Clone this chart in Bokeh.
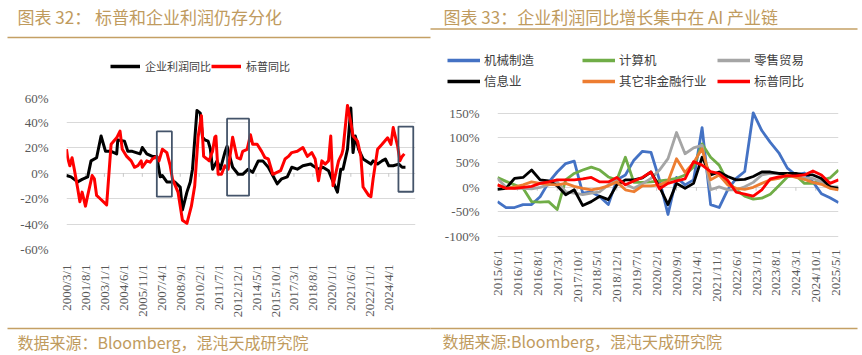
import math
from bokeh.plotting import figure
from bokeh.models import (Range1d, FixedTicker, PrintfTickFormatter, BoxAnnotation,
                          Legend, LegendItem)
from bokeh.core.properties import value
from bokeh.layouts import row, column
from bokeh.embed import file_html
from bokeh.resources import INLINE

# ---------------- data: left chart (monthly index since 2000/3) ----------------
left_tick_labels = ["2000/3/1", "2001/8/1", "2003/1/1", "2004/6/1", "2005/11/1", "2007/4/1",
                    "2008/9/1", "2010/2/1", "2011/7/1", "2012/12/1", "2014/5/1", "2015/10/1",
                    "2017/3/1", "2018/8/1", "2020/1/1", "2021/6/1", "2022/11/1", "2024/4/1"]

profit_month = [0, 4, 10, 14, 19, 22, 27, 31, 35, 40, 45, 46, 52, 55, 59, 66, 68, 72, 77, 81, 84, 86,
                90, 94, 97, 102, 104, 108, 111, 113, 117, 120, 122, 124, 127, 129, 131, 135, 138, 142,
                144, 147, 149, 154, 158, 163, 167, 172, 176, 181, 185, 189, 193, 198, 202, 207, 212,
                219, 221, 226, 230, 235, 238, 243, 246, 248, 252, 255, 257, 259, 262, 266, 273, 275,
                279, 283, 286, 289, 293, 298, 301, 304]
profit_yoy = [-2, -3, -7, -5, -3, 9.5, 12, 29, 17, 17, 15, 26, 25, 17, 17, 15, 20, 15, 13, 13, -3, -2,
              -7, -7, -7, -11, -29, -15, -7, 3, 49, 47, 28, 26, 25, 19, 3, 9.5, 3, 16,
              21, 11, 4.5, -1, -1, 3, 0.5, 9.5, 9.5, 4.5, -2, -8.5, -4.6, -3, 4.5, 3, 5.7,
              7, 5.7, 3, 4.5, 1.8, -4.6, -15, 3, 3, 18.6, 51, 16, 29, 18.6, 11, 7, 9.5,
              7, 9.5, 11, 5.7, 5.7, 7, 4.5, 4.5]

spx_month = [0, 1, 3, 5, 7, 10, 12, 14, 17, 19, 23, 25, 27, 30, 36, 40, 45, 48, 50, 54, 58, 61, 64,
             67, 68, 72, 75, 77, 81, 83, 86, 90, 93, 95, 100, 104, 108, 112, 115, 118, 121, 123, 126,
             128, 130, 131, 133, 134, 136, 139, 142, 145, 149, 153, 156, 158, 162, 165, 167, 171,
             175, 178, 181, 185, 192, 196, 199, 202, 207, 212, 216, 220, 223, 226, 229, 232, 235,
             237, 239, 244, 247, 248, 252, 255, 257, 261, 264, 266, 271, 273, 275, 279, 283, 288,
             291, 293, 297, 299, 301, 303]
spx_yoy = [18.6, 12, 5.7, 12, 3, -12, -22.5, -15, -26, -17.6, -2, -4.6, -17.6, -20, -25, 22.5, 27.6,
           32.8, 18.6, 13, 9.5, 4.5, 5.7, 9.5, 4.5, 9.5, 8.5, 11, 13, 9.5, 18.6, 16, 5.7, -4.6, -15,
           -37, -39.5, -26, -10, 28, 45, 13, 11, 9.5, 15, 17, 28, 29, -1, -1, 5.7, 3, 28, 12, 11, 17,
           18.6, 30, 22.5, 22.5, 17, 12, 11, -1, 1.8, 11, 13, 16, 17, 20, 13, 16, 11, -6, 9.5, 7, 9.5,
           29, -10, 9.5, 15, 18.6, 53, 39.5, 29, 25, 13, -11, -17.6, -18.6, -4.6, 18.6, 22.5, 27.6,
           22.5, 35.6, 21, 9.5, 13, 15]

# highlighted periods (month index, percent)
box_left = [81, 144, 297.7]
box_right = [94.5, 163.7, 311]
box_top = [32.6, 42.6, 36.4]
box_bottom = [-18.6, -17.8, -14.7]

# ---------------- data: right chart (quarterly, month index since 2015/6) ----------------
right_tick_labels = ["2015/6/1", "2016/1/1", "2016/8/1", "2017/3/1", "2017/10/1", "2018/5/1",
                     "2018/12/1", "2019/7/1", "2020/2/1", "2020/9/1", "2021/4/1", "2021/11/1",
                     "2022/6/1", "2023/1/1", "2023/8/1", "2024/3/1", "2024/10/1", "2025/5/1"]
quarter_month = list(range(0, 121, 3))

machinery = [-29, -41, -41, -35, -35, -19, 10, 31, 48, 53, -12, -9, -19, -35, 15, 25, 55, 73, 71, 15,
             -55, 20, 5, 15, 121, -35, -41, -5, 18, 32, 151, 115, 91, 70, 39, 25, 29, 11, -13, -21, -31]
computer = [20, 12, 5, -2, -29, -30, -29, -45, 15, 28, 35, 41, 35, 21, 15, 61, 10, 10, 11, 13,
            15, 18, 25, 41, 88, 61, 45, 11, -5, -18, -24, -22, -14, 3, 21, 24, 8, 8, 14, 19, 35]
retail = [18, 0, -2, -2, -3, 0, 5, 11, -9, -12, -15, -12, -9, 5, 15, 6, -2, 7, 18, 35,
          58, 111, 68, 80, 85, -5, 1, -5, -5, 1, 10, 25, 28, 28, 25, 25, 18, 18, 11, 1, 1]
info = [-4, -2, 18, 20, 35, 15, 13, 3, -15, -5, -37, -29, -18, -25, 5, 15, 15, 19, 31, 1,
        -35, 8, -2, 8, 61, 25, 31, 22, 15, 16, 22, 31, 31, 28, 28, 28, 25, 25, 18, 1, -2]
other_nonfin = [5, -2, 1, 5, 11, 8, 6, 5, 8, 2, -2, -5, -2, 3, 11, -5, -9, 3, 3, 5,
                12, 58, 30, 50, 78, 15, 25, 5, -2, -4, 0, 8, 15, 18, 25, 20, 16, 10, 6, -2, -5]
spx_right = [5, -2, -2, 0, 2, 8, 11, 15, 15, 15, 17, 20, 11, 11, 20, 5, 13, 20, 31, -3,
             8, 13, 17, 52, 45, 32, 28, 14, -10, -14, -18, -5, 17, 21, 23, 23, 25, 33, 25, 8, 15]

right_series = [("机械制造", machinery, "#4472c4"), ("计算机", computer, "#70ad47"),
                ("零售贸易", retail, "#a5a5a5"), ("信息业", info, "#000000"),
                ("其它非金融行业", other_nonfin, "#ed7d31"), ("标普同比", spx_right, "#ff0000")]
right_legend_cols = [["机械制造", "信息业"], ["计算机", "其它非金融行业"], ["零售贸易", "标普同比"]]
left_series = [("企业利润同比", "#000000"), ("标普同比", "#ff0000")]

titles = ["图表 32：  标普和企业利润仍存分化", "图表 33：企业利润同比增长集中在 AI 产业链"]
sources = ["数据来源：Bloomberg，混沌天成研究院", "数据来源:Bloomberg，混沌天成研究院"]


def month_index(label, y0, m0):
    y, m, _ = label.split("/")
    return (int(y) - y0) * 12 + (int(m) - m0)


left_ticks = [month_index(s, 2000, 3) for s in left_tick_labels]
right_ticks = [month_index(s, 2015, 6) for s in right_tick_labels]

GOLD = "#bf9b5e"
GOLD_LINE = "#c4a064"
TICK_COL = "#595959"
CJK = "Noto Sans CJK SC"
SERIF = "Liberation Serif"


def style(p, yticks, xticks, xlabels, xstandoff):
    p.outline_line_color = None
    p.background_fill_color = "white"
    p.border_fill_color = "white"
    p.xgrid.visible = False
    p.ygrid.grid_line_color = "#d9d9d9"
    p.ygrid.grid_line_width = 1
    p.yaxis.ticker = FixedTicker(ticks=yticks)
    p.yaxis.formatter = PrintfTickFormatter(format="%d%%")
    p.xaxis.ticker = FixedTicker(ticks=xticks)
    p.xaxis.major_label_overrides = {t: l for t, l in zip(xticks, xlabels)}
    p.xaxis.major_label_orientation = math.pi / 2
    for ax in (p.xaxis, p.yaxis):
        ax.axis_line_color = None
        ax.major_tick_line_color = None
        ax.minor_tick_line_color = None
        ax.major_label_text_font = SERIF
        ax.major_label_text_font_size = "13px"
        ax.major_label_text_color = TICK_COL
    p.yaxis.major_label_standoff = 12
    p.xaxis.major_label_standoff = xstandoff


def strip(height):
    s = figure(width=862, height=height, output_backend="svg", toolbar_location=None,
               x_range=Range1d(0, 862), y_range=Range1d(height, 0),
               x_axis_type=None, y_axis_type=None)
    s.min_border_left = s.min_border_right = s.min_border_top = s.min_border_bottom = 0
    s.outline_line_color = None
    s.grid.visible = False
    s.background_fill_color = "white"
    s.border_fill_color = "white"
    return s


def add_legend(s, renderers, names, loc, size, gw, gh, standoff):
    s.add_layout(Legend(items=[LegendItem(label=n, renderers=[r]) for n, r in zip(names, renderers)],
                        location=loc, orientation="vertical",
                        border_line_color=None, background_fill_alpha=0, padding=0, margin=0,
                        glyph_width=gw, glyph_height=gh, label_height=gh,
                        label_standoff=standoff, spacing=2,
                        label_text_font=CJK, label_text_font_size=size,
                        label_text_color="#404040"))


# ---------------- top strip (canvas y 0..90): titles, rules, legends ----------------
top = strip(90)
top.text(x=[17, 443], y=[16, 16], text=titles, text_font=value(CJK), text_font_size="17px",
         text_color=GOLD, text_baseline="middle", text_align="left")
top.segment(x0=[7, 430], y0=[37, 28.5], x1=[430, 857], y1=[37, 28.5],
            line_color=GOLD_LINE, line_width=1.5)
# legend keys: line renderers whose (single dummy) segment lies outside the strip's view
key = {}
for name, col in left_series:
    key[("L", name)] = top.line(x=[-30, -20], y=[-30, -30], line_color=col, line_width=3.5)
for name, _, col in right_series:
    key[("R", name)] = top.line(x=[-30, -20], y=[-30, -30], line_color=col, line_width=3.5)
for (name, _), sx in zip(left_series, [110, 211]):
    add_legend(top, [key[("L", name)]], [name], (sx, 16), "11px", 30, 16, 5)
for names, sx in zip(right_legend_cols, [447, 582, 717]):
    add_legend(top, [key[("R", n)] for n in names], names, (sx, 0), "12.5px", 33, 18, 4)

# ---------------- left chart (canvas y 90..320, frame x 66..415, y 96..251) ----------------
p1 = figure(width=431, height=230, output_backend="svg", toolbar_location=None,
            x_range=Range1d(0, 313), y_range=Range1d(-60, 60),
            min_border_left=66, min_border_right=16, min_border_top=6, min_border_bottom=69)
style(p1, [-60, -40, -20, 0, 20, 40, 60], left_ticks, left_tick_labels, 9)
p1.segment(x0=left_ticks, y0=[0] * len(left_ticks), x1=left_ticks, y1=[-3] * len(left_ticks),
           line_color="#c8c8c8", line_width=1)
p1.line(profit_month, profit_yoy, line_color="black", line_width=3, line_join="round")
p1.line(spx_month, spx_yoy, line_color="#ff0000", line_width=3, line_join="round")
for l, r, t, b in zip(box_left, box_right, box_top, box_bottom):
    p1.add_layout(BoxAnnotation(left=l, right=r, top=t, bottom=b, fill_alpha=0, line_alpha=1,
                                line_color="#44546a", line_width=1.8))

# ---------------- right chart (frame x 497..838, y 96..251; 150% at 113, -100% at 238) ----------------
p2 = figure(width=431, height=230, output_backend="svg", toolbar_location=None,
            x_range=Range1d(0, 120), y_range=Range1d(-126, 184),
            min_border_left=66, min_border_right=24, min_border_top=6, min_border_bottom=69)
style(p2, [-100, -50, 0, 50, 100, 150], right_ticks, right_tick_labels, -6)
p2.segment(x0=right_ticks, y0=[0] * len(right_ticks), x1=right_ticks, y1=[-7] * len(right_ticks),
           line_color="#c8c8c8", line_width=1)
for name, vals, col in right_series:
    p2.line(quarter_month, vals, line_color=col, line_width=2.8, line_join="round")

# ---------------- bottom strip (canvas y 320..355) ----------------
bot = strip(35)
bot.segment(x0=[7, 430], y0=[8, 8], x1=[430, 857], y1=[8, 8], line_color=GOLD_LINE, line_width=1.5)
bot.text(x=[17, 442], y=[21, 20], text=sources, text_font=value(CJK), text_font_size="16px",
         text_color=GOLD, text_baseline="middle", text_align="left")

layout = column(top, row(p1, p2), bot)
open("out.html", "w").write(file_html(layout, INLINE))
